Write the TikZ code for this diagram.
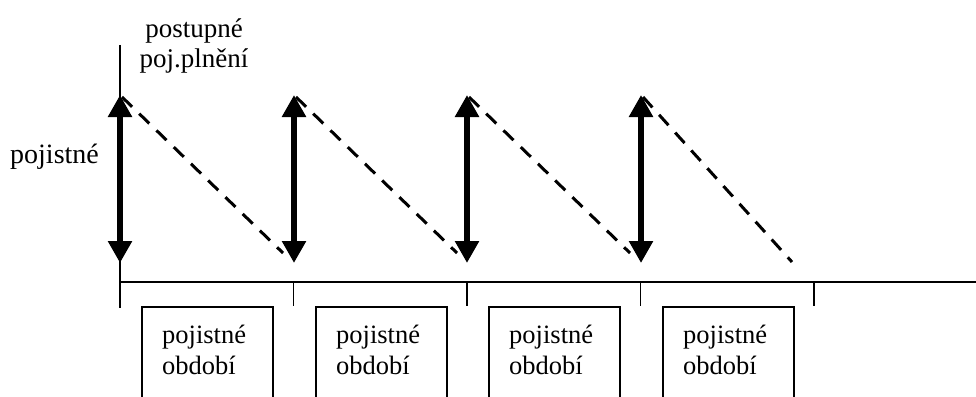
\documentclass[tikz,border=0pt]{standalone}
\usepackage{fontspec}
\setmainfont{Liberation Serif}
\usetikzlibrary{arrows.meta}
\begin{document}
\begin{tikzpicture}[x=1pt,y=-1pt,
  axis/.style={line width=1.6pt},
  premium/.style={line width=5.8pt,
    {Triangle[width=23pt,length=22pt]}-{Triangle[width=23pt,length=22pt]}},
  decay/.style={line width=3pt, dash pattern=on 14pt off 10pt},
  periodbox/.style={draw, line width=1.6pt, anchor=north west,
    minimum width=131pt, minimum height=120pt, inner sep=0pt},
  lbl/.style={font=\fontsize{26.5}{30.5}\selectfont, inner sep=0pt}]
\useasboundingbox (0,0) rectangle (976,396);
\clip (0,0) rectangle (976,396);

% axes
\coordinate (ytop) at (120,45);
\coordinate (ybot) at (120,308);
\coordinate (orig) at (120,282);
\coordinate (xend) at (976,282);
\draw[axis] (ytop) -- (ybot);
\draw[axis] (orig) -- (xend);

% period ticks
\foreach \x/\n in {293.5/1,467/2,640.5/3,814/4}{
  \coordinate (tk\n) at (\x,282);
  \coordinate (tb\n) at (\x,306);
  \draw[axis] (tk\n) -- (tb\n);
}

% premium payments (double arrows)
\foreach \x/\n in {120/1,294/2,467/3,641/4}{
  \coordinate (pt\n) at (\x,95);
  \coordinate (pb\n) at (\x,263);
  \draw[premium] (pb\n) -- (pt\n);
}

% gradual decrease of the reserve
\coordinate (d1) at (283,253);
\coordinate (d2) at (457,253);
\coordinate (d3) at (630,253);
\coordinate (d4) at (792,262);
\foreach \n in {1,2,3,4}{
  \draw[decay] ([xshift=2pt,yshift=-2pt]pt\n) -- (d\n);
}

% insurance periods
\foreach \x/\n in {141/1,315/2,488/3,662/4}{
  \node[periodbox] (per\n) at (\x,306) {};
  \node[lbl, anchor=north west, align=left] (pl\n)
    at ([xshift=21pt,yshift=-19pt]per\n.north west) {pojistné\\období};
}

% labels
\node[lbl, font=\fontsize{28}{30}\selectfont, anchor=base west] (prem) at (10,163) {pojistné};
\node[lbl, font=\fontsize{27}{29.5}\selectfont, anchor=north, align=center] (ben) at (194,19) {postupné\\poj.plnění};
\end{tikzpicture}
\end{document}
